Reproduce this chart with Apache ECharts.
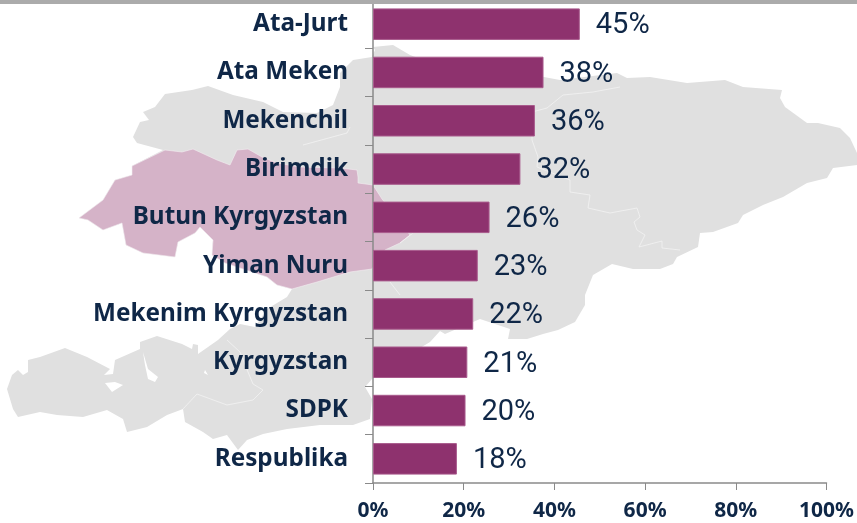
<!DOCTYPE html>
<html>
<head>
<meta charset="utf-8">
<style>
  html, body { margin: 0; padding: 0; background: #fff; }
  #chart { width: 857px; height: 523px; }
</style>
<script src="https://cdn.jsdelivr.net/npm/echarts@6/dist/echarts.min.js"></script>
</head>
<body>
<div id="chart"></div>
<script>
const parties = ['Ata-Jurt', 'Ata Meken', 'Mekenchil', 'Birimdik', 'Butun Kyrgyzstan', 'Yiman Nuru', 'Mekenim Kyrgyzstan', 'Kyrgyzstan', 'SDPK', 'Respublika']
const shares = [45.6, 37.6, 35.7, 32.5, 25.7, 23.1, 22.1, 20.8, 20.4, 18.5]
const shareLabels = ['45%', '38%', '36%', '32%', '26%', '23%', '22%', '21%', '20%', '18%']

// backdrop map of the country, pixel outlines traced by eye
const countryOutline = [[373,47],[393,45],[410,55],[440,66],[500,72],[544,77],[560,80],[617,73],[627,78],[650,77],[687,83],[725,80],[743,87],[782,90],[780,98],[785,107],[807,123],[818,123],[840,128],[850,138],[857,153],[857,165],[833,168],[827,178],[807,183],[783,197],[763,205],[743,215],[738,223],[713,232],[700,233],[698,247],[677,257],[673,264],[660,269],[633,269],[612,264],[593,275],[585,295],[585,305],[575,322],[558,330],[543,334],[527,339],[508,339],[510,329],[480,319],[473,322],[445,334],[440,331],[430,342],[400,360],[373,375],[372,379],[365,387],[372,399],[370,419],[353,425],[320,425],[287,429],[263,434],[247,440],[238,450],[227,435],[213,439],[203,432],[185,422],[183,409],[167,415],[147,427],[127,432],[123,419],[107,410],[83,417],[57,415],[40,412],[18,417],[13,409],[7,389],[12,375],[18,370],[23,375],[28,372],[28,360],[40,357],[65,348],[87,357],[110,369],[104,375],[113,374],[115,360],[140,349],[140,342],[157,336],[182,344],[192,349],[193,344],[198,345],[198,354],[218,340],[230,329],[240,324],[255,327],[267,309],[287,297],[292,289],[277,285],[267,277],[225,263],[212,255],[213,240],[200,227],[195,233],[178,242],[175,257],[143,253],[126,245],[122,223],[103,230],[88,220],[79,218],[103,200],[115,180],[132,175],[132,166],[163,150],[137,143],[133,137],[140,122],[149,120],[143,112],[155,107],[165,94],[192,90],[208,86],[233,95],[263,102],[283,112],[317,113],[333,105],[340,87],[340,73],[353,60],[372,57],[375,50]]
const regionOutline = [[79,218],[103,200],[115,180],[132,175],[132,166],[165,150],[182,152],[193,149],[217,160],[230,165],[237,150],[248,149],[262,157],[277,163],[300,167],[340,168],[357,170],[358,177],[358,183],[373,185],[382,199],[395,215],[410,235],[400,243],[385,250],[372,269],[350,272],[317,282],[292,289],[277,285],[267,277],[225,263],[212,255],[213,240],[200,227],[195,233],[178,242],[175,257],[143,253],[126,245],[122,223],[103,230],[88,220]]
const lakeHoles = [
  [[143,352],[148,369],[158,377],[155,382],[148,379],[145,365]],
  [[105,383],[112,392],[123,385],[115,382]],
  [[205,370],[208,375],[204,373]]
]
const borderLines = [
  [[620,87],[593,92],[563,95],[547,108],[532,112],[532,140],[538,157],[537,167],[570,180],[570,192],[590,195],[588,208],[610,213],[637,208],[640,217],[634,222],[637,230],[645,235],[639,247],[662,241],[662,248],[680,250]],
  [[183,409],[197,394],[227,405],[253,400],[263,390],[253,384],[248,372],[240,352],[227,340]],
  [[303,145],[347,133],[350,127]],
  [[400,243],[413,233],[430,233]],
  [[390,282],[400,295]]
]

const mapElements = [
  { type: 'polygon', z: -10, shape: { points: countryOutline }, style: { fill: '#e0e0e0' } },
  { type: 'polygon', z: -9, shape: { points: regionOutline }, style: { fill: '#d5b3c8', stroke: '#f4eef2', lineWidth: 0.6 } },
  ...lakeHoles.map(points => ({ type: 'polygon', z: -8, shape: { points }, style: { fill: '#fff' } })),
  ...borderLines.map(points => ({ type: 'polyline', z: -8, shape: { points }, style: { fill: null, stroke: '#f2f2f2', lineWidth: 0.8 } })),
  { type: 'rect', z: 50, shape: { x: 0, y: 0, width: 857, height: 4 }, style: { fill: '#ababab' } }
]

const chart = echarts.init(document.getElementById('chart'))

chart.setOption({
  animation: false,
  backgroundColor: '#fff',
  graphic: { elements: mapElements },
  grid: { left: 373, right: 28.5, top: -2, bottom: 40 },
  xAxis: {
    type: 'value',
    min: 0,
    max: 100,
    interval: 20,
    splitLine: { show: false },
    axisLine: { show: true, lineStyle: { color: '#8a8a8a', width: 1.5 } },
    axisTick: { show: true, length: 7, lineStyle: { color: '#8a8a8a', width: 1 } },
    axisLabel: {
      color: '#0f2747',
      fontFamily: 'Noto Sans',
      fontWeight: 'bold',
      fontSize: 21,
      margin: 18,
      formatter: '{value}%'
    }
  },
  yAxis: {
    type: 'category',
    inverse: true,
    data: parties,
    axisLine: { show: true, lineStyle: { color: '#8a8a8a', width: 1.5 } },
    axisTick: { show: true, length: 8, lineStyle: { color: '#8a8a8a', width: 1 } },
    axisLabel: {
      color: '#0f2747',
      fontFamily: 'Noto Sans',
      fontWeight: 'bold',
      fontSize: 24.3,
      margin: 25,
      padding: [3, 0, 0, 0]
    }
  },
  series: [
    {
      type: 'bar',
      data: shares,
      barWidth: 31.5,
      itemStyle: { color: '#8e326e', borderColor: '#a85a8c', borderWidth: 1 },
      label: {
        show: true,
        position: 'right',
        distance: 16,
        offset: [0, 2],
        color: '#0f2747',
        fontFamily: 'Roboto',
        fontSize: 29,
        formatter: p => shareLabels[p.dataIndex]
      }
    }
  ]
})
</script>
</body>
</html>
